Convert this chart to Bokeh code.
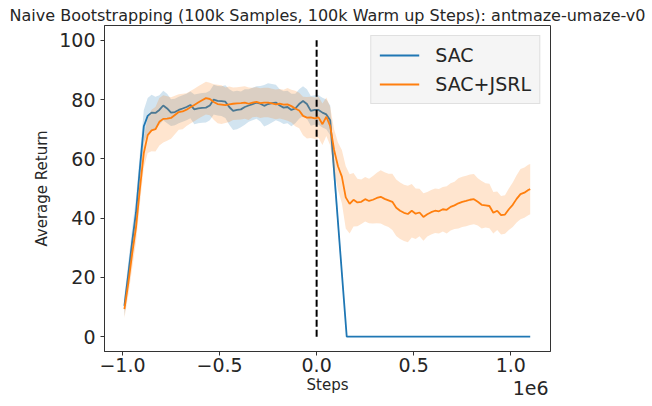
import math
from bokeh.plotting import figure
from bokeh.models import Range1d, Label, CustomJSTickFormatter, FixedTicker
from bokeh.embed import file_html
from bokeh.resources import INLINE

# ---------------- data (steps in thousands) ----------------
title_text = "Naive Bootstrapping (100k Samples, 100k Warm up Steps): antmaze-umaze-v0"
x_label = "Steps"
y_label = "Average Return"
x_scale_label = "1e6"
series_names = ["SAC", "SAC+JSRL"]
x_ticks_m = [-1.0, -0.5, 0.0, 0.5, 1.0]
y_ticks = [0, 20, 40, 60, 80, 100]
boundary_step_k = 0
boundary_span = [0, 100]

sac_steps_k = [-990, -970, -950, -930, -910, -890, -870, -850, -830, -810,
               -790, -770, -750, -730, -710, -690, -670, -650, -630, -610,
               -590, -570, -550, -530, -510, -490, -470, -450, -430, -410,
               -390, -370, -350, -330, -310, -290, -270, -250, -230, -210,
               -190, -170, -150, -130, -110, -90, -70, -50, -30, -10,
               10, 30, 50, 70, 155, 300, 500, 700, 900, 1100]
sac_mean = [10.4, 21, 32, 42, 57, 71, 74.5, 75.6, 75.5, 76.5,
            78, 77, 75.6, 75.8, 76.5, 77, 77.5, 78.2, 76.7, 77,
            77.2, 77.3, 78, 80, 79.6, 79.5, 79.3, 77.5, 76.2, 76.5,
            76.7, 77.5, 78, 78.5, 79, 78.6, 77.9, 78.5, 78.8, 79,
            78, 77.3, 77.5, 76.5, 77, 78.5, 79.5, 78.5, 76.2, 76.5,
            76.5, 75.6, 75, 73, 0, 0, 0, 0, 0, 0]
sac_std = [3.5, 4, 4.5, 5, 5, 5.5, 6, 6, 5.5, 5,
           5, 5, 4.5, 4.5, 4.5, 4.5, 4.5, 4.5, 5, 5,
           5, 5, 5, 5, 5, 5, 5.5, 6, 6.5, 6.5,
           6, 6, 5.5, 5.5, 5.5, 6, 7, 7, 6.5, 6,
           5.5, 5.5, 5.5, 5.5, 5, 5, 5, 5, 5, 5,
           5, 5, 5, 5, 0, 0, 0, 0, 0, 0]

jsrl_steps_k = [-990, -970, -950, -930, -910, -890, -870, -850, -830, -810,
                -790, -770, -750, -730, -710, -690, -670, -650, -630, -610,
                -590, -570, -550, -530, -510, -490, -470, -450, -430, -410,
                -390, -370, -350, -330, -310, -290, -270, -250, -230, -210,
                -190, -170, -150, -130, -110, -90, -70, -50, -30, -10,
                10, 30, 50, 70, 90, 110, 130, 150, 170, 190,
                210, 230, 250, 270, 290, 310, 330, 350, 370, 390,
                410, 430, 450, 470, 490, 510, 530, 550, 570, 590,
                610, 630, 650, 670, 690, 710, 730, 750, 770, 790,
                810, 830, 850, 870, 890, 910, 930, 950, 970, 990,
                1010, 1030, 1050, 1070, 1090, 1100]
jsrl_mean = [9.3, 18, 28, 37, 50, 62, 68, 69.6, 70, 72.5,
             73.5, 73.6, 73.8, 74.8, 75.8, 76, 76.6, 77.4, 78.2, 79,
             79.8, 80.5, 80.2, 79.2, 78.5, 78.3, 78.1, 78.4, 78.6, 78.7,
             78.8, 79, 78.6, 79, 79.2, 78.8, 79, 79, 78.7, 78.4,
             78.6, 78.3, 78.4, 77.8, 77, 76.3, 74.5, 73.9, 74, 73.7,
             74, 71.7, 74.2, 71, 63, 57.5, 54, 47, 44.8, 46.2,
             45.3, 45.5, 46.4, 45.8, 46.2, 46.8, 47.2, 46.5, 46, 45.5,
             43.5, 42.5, 41.8, 41.4, 42.5, 41.5, 41.9, 40.4, 41.3, 42,
             42.5, 42.3, 43, 42.8, 43.8, 44.3, 45, 45.5, 45.8, 46.2,
             46.4, 45.5, 44.5, 44.3, 44.1, 41.8, 42.5, 41, 41.2, 43,
             44.5, 46.5, 48.1, 48.6, 49.5, 49.8]
jsrl_std = [3, 4, 5, 5, 5, 5, 6, 7, 7.5, 8,
            8, 7.5, 7, 6.5, 6, 6, 5.5, 5.5, 5.5, 5.5,
            5.5, 5.5, 5.5, 6, 6.5, 6.5, 6, 6, 5.5, 5.5,
            5.5, 5.5, 5.5, 5, 5, 5, 5, 5, 5, 5,
            5, 5, 5.5, 5.5, 6, 6, 6.5, 7, 7, 7,
            7, 7, 6.5, 6.5, 7, 8, 9, 10.5, 10, 9,
            8, 7.5, 7.5, 7.5, 8, 8.5, 9, 9, 9, 9.5,
            9.5, 9.5, 9.5, 9.5, 9, 8.5, 8, 8, 7.5, 7.5,
            7.5, 7.5, 7.5, 8, 8, 8, 8.5, 8.5, 8.5, 8.5,
            8.5, 8, 8, 7.5, 7.5, 7, 6.5, 6.5, 6.5, 7,
            7.5, 8, 8.5, 8.5, 8.5, 8.5]

BLUE = "#1f77b4"
ORANGE = "#ff7f0e"
TEXT = "#262626"
FONT = "DejaVu Sans"

sac_x = [s * 1000 for s in sac_steps_k]
jsrl_x = [s * 1000 for s in jsrl_steps_k]
sac_lo = [m - s for m, s in zip(sac_mean, sac_std)]
sac_hi = [m + s for m, s in zip(sac_mean, sac_std)]
jsrl_lo = [m - s for m, s in zip(jsrl_mean, jsrl_std)]
jsrl_hi = [m + s for m, s in zip(jsrl_mean, jsrl_std)]

X0, X1 = -1.0925e6, 1.2045e6
Y0, Y1 = -5, 105

p = figure(width=652, height=406, output_backend="svg", toolbar_location=None,
           x_range=Range1d(X0, X1), y_range=Range1d(Y0, Y1),
           min_border_left=104, min_border_right=102, min_border_top=25, min_border_bottom=55,
           title=title_text)
p.background_fill_color = "white"
p.border_fill_color = "white"
p.outline_line_color = "#333333"
p.outline_line_width = 1
p.xgrid.visible = False
p.ygrid.visible = False

p.title.text_font = FONT
p.title.text_font_size = "16px"
p.title.text_font_style = "normal"
p.title.text_color = TEXT
p.title.align = "center"
p.title.standoff = 2

p.varea(x=sac_x, y1=sac_lo, y2=sac_hi, fill_color=BLUE, fill_alpha=0.2)
p.line(sac_x, sac_mean, line_color=BLUE, line_width=1.8, legend_label=series_names[0])
p.varea(x=jsrl_x, y1=jsrl_lo, y2=jsrl_hi, fill_color=ORANGE, fill_alpha=0.2)
p.line(jsrl_x, jsrl_mean, line_color=ORANGE, line_width=1.8, legend_label=series_names[1])

p.line([boundary_step_k * 1000] * 2, boundary_span, line_color="black", line_width=2, line_dash="7 3")

for ax in (p.xaxis[0], p.yaxis[0]):
    ax.axis_line_color = "#333333"
    ax.major_tick_line_color = "#333333"
    ax.major_tick_out = 4
    ax.major_tick_in = 0
    ax.minor_tick_line_color = None
    ax.major_label_text_font = FONT
    ax.major_label_text_font_size = "19px"
    ax.major_label_text_color = TEXT
    ax.axis_label_text_font = FONT
    ax.axis_label_text_font_size = "15px"
    ax.axis_label_text_font_style = "normal"
    ax.axis_label_text_color = TEXT

p.xaxis.ticker = FixedTicker(ticks=[t * 1e6 for t in x_ticks_m])
p.xaxis.formatter = CustomJSTickFormatter(code="return (tick/1e6).toFixed(1).replace('-', '\u2212');")
p.xaxis.major_label_standoff = 2
p.xaxis.axis_label = x_label
p.xaxis.axis_label_standoff = 1
p.yaxis.ticker = FixedTicker(ticks=y_ticks)
p.yaxis.major_label_standoff = 5
p.yaxis.axis_label = y_label
p.yaxis.axis_label_standoff = 5

# offset text of the x axis, placed in a side panel so it is not clipped to the frame
p.add_layout(Label(x=X1, y=Y0, text=x_scale_label, text_align="right", text_baseline="top",
                   x_offset=-2, y_offset=-29,
                   text_font=FONT, text_font_size="19px", text_color=TEXT), "right")

lg = p.legend[0]
lg.location = "top_right"
lg.margin = 10
lg.padding = 8
lg.spacing = 7
lg.glyph_width = 40
lg.glyph_height = 20
lg.label_height = 20
lg.label_standoff = 16
lg.label_text_font = FONT
lg.label_text_font_size = "19px"
lg.label_text_color = TEXT
lg.background_fill_color = "#f5f5f5"
lg.background_fill_alpha = 1.0
lg.border_line_color = "#cccccc"
lg.border_line_width = 1

open("out.html", "w").write(file_html(p, INLINE))
